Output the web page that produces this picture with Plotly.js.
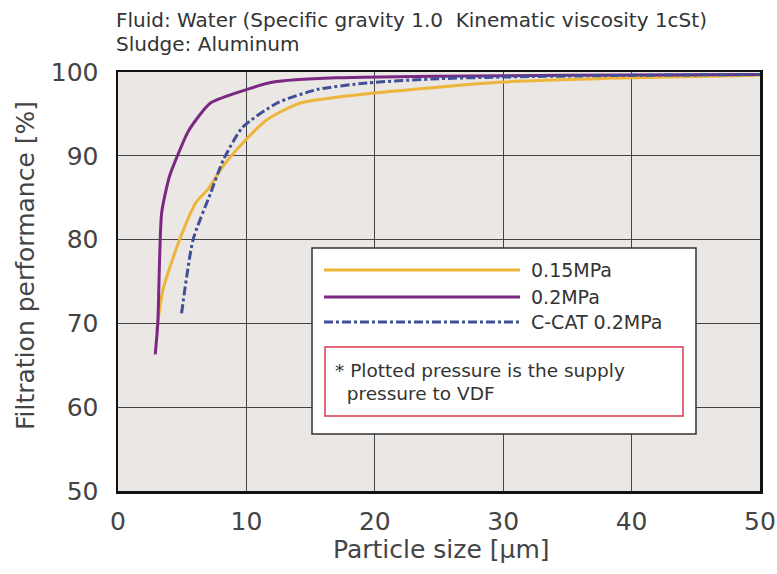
<!DOCTYPE html>
<html><head><meta charset="utf-8">
<script src="https://cdn.plot.ly/plotly-3.0.1.min.js"></script>
<style>html,body{margin:0;padding:0;background:#fff}#chart{width:777px;height:574px}</style>
</head><body><div id="chart"></div>
<script>
// Series data
const seriesNames = ["0.15MPa", "0.2MPa", "C-CAT 0.2MPa"];
const x015 = [3.0, 3.5, 4.8, 6.1, 7.0, 8.2, 9.7, 11.6, 14.2, 20, 30, 40, 50];
const y015 = [69.0, 74.0, 80.0, 84.5, 86.0, 88.8, 91.5, 94.3, 96.3, 97.5, 98.8, 99.3, 99.6];
const x02 = [2.9, 3.1, 3.4, 4.0, 4.6, 5.5, 7.2, 10.0, 12.1, 17, 25, 35, 50];
const y02 = [66.3, 70.0, 83.2, 87.5, 89.9, 93.0, 96.3, 97.9, 98.8, 99.3, 99.5, 99.6, 99.7];
const xcc = [4.95, 5.85, 7.2, 8.2, 9.7, 12.4, 15.5, 19.4, 25, 30, 40, 50];
const ycc = [71.2, 80.0, 85.5, 89.5, 93.4, 96.3, 97.9, 98.7, 99.2, 99.4, 99.6, 99.7];
const xTicks = [0, 10, 20, 30, 40, 50];
const yTicks = [50, 60, 70, 80, 90, 100];
const titleLines = ["Fluid: Water (Specific gravity 1.0\u00a0\u00a0Kinematic viscosity 1cSt)", "Sludge: Aluminum"];
const noteLines = ["* Plotted pressure is the supply", "\u00a0\u00a0pressure to VDF"];
const xTitle = "Particle size [\u03bcm]";
const yTitle = "Filtration performance [%]";

const colors = ["#EDB53A", "#7A2882", "#3F4F98"];
const dashes = ["solid", "solid", "dashdot"];
const FONT = "DejaVu Sans, Noto Sans, sans-serif";

const data = [[x015, y015], [x02, y02], [xcc, ycc]].map((d, i) => ({
  x: d[0], y: d[1], type: "scatter", mode: "lines", name: seriesNames[i],
  line: {color: colors[i], width: 3, dash: dashes[i], shape: "spline", smoothing: 0.6},
  showlegend: false
}));

// legend box geometry (paper coords)
const W = 777, H = 574, L = 118, R = 17, T = 72, B = 83;
const pw = W - L - R, ph = H - T - B;
const px = v => (v - L) / pw;
const py = v => (H - B - v) / ph;

const shapes = [
  {type: "rect", xref: "paper", yref: "paper", x0: px(312), x1: px(696), y0: py(434), y1: py(248),
   fillcolor: "#ffffff", line: {color: "#333", width: 1.5}, layer: "above"},
  {type: "rect", xref: "paper", yref: "paper", x0: px(325), x1: px(683), y0: py(416), y1: py(347),
   fillcolor: "#ffffff", line: {color: "#D9394E", width: 1.5}, layer: "above"}
];
const legY = [270, 297, 322];
const annotations = [];
seriesNames.forEach((n, i) => {
  shapes.push({type: "line", xref: "paper", yref: "paper", x0: px(324), x1: px(520), y0: py(legY[i]), y1: py(legY[i]),
    line: {color: colors[i], width: 3, dash: dashes[i]}, layer: "above"});
  annotations.push({xref: "paper", yref: "paper", x: px(529), y: py(legY[i]), xanchor: "left", yanchor: "middle",
    text: n, showarrow: false, font: {family: FONT, size: 19, color: "#333"}});
});
noteLines.forEach((t, i) => annotations.push({xref: "paper", yref: "paper", x: px(333), y: py(370 + i * 23),
  xanchor: "left", yanchor: "middle", text: t, showarrow: false, font: {family: FONT, size: 18.5, color: "#333"}}));
titleLines.forEach((t, i) => annotations.push({xref: "paper", yref: "paper", x: px(114), y: py(20 + i * 24),
  xanchor: "left", yanchor: "middle", text: t, showarrow: false, font: {family: FONT, size: 20, color: "#333"}}));
annotations.push({xref: "paper", yref: "paper", x: px(441), y: py(549), xanchor: "center", yanchor: "middle",
  text: xTitle, showarrow: false, font: {family: FONT, size: 25, color: "#444"}});
annotations.push({xref: "paper", yref: "paper", x: px(25), y: py(266), xanchor: "center", yanchor: "middle",
  textangle: -90, text: yTitle, showarrow: false, font: {family: FONT, size: 25, color: "#444"}});

const layout = {
  width: W, height: H,
  margin: {l: L, r: R, t: T, b: B},
  paper_bgcolor: "#ffffff", plot_bgcolor: "#EBE7E5",
  font: {family: FONT, color: "#333"},
  xaxis: {range: [0, 50], tickvals: xTicks, ticks: "", showgrid: true, gridcolor: "#444", gridwidth: 1,
    showline: true, linecolor: "#111", linewidth: 2.5, mirror: true, zeroline: false,
    tickfont: {size: 25, color: "#444"}, ticklabelstandoff: 6, automargin: false},
  yaxis: {range: [50, 100], tickvals: yTicks, ticks: "", showgrid: true, gridcolor: "#444", gridwidth: 1,
    showline: true, linecolor: "#111", linewidth: 2.5, mirror: true, zeroline: false,
    tickfont: {size: 25, color: "#444"}, ticklabelstandoff: 12, automargin: false},
  shapes: shapes, annotations: annotations
};
Plotly.newPlot("chart", data, layout, {displayModeBar: false, staticPlot: true});
</script></body></html>
